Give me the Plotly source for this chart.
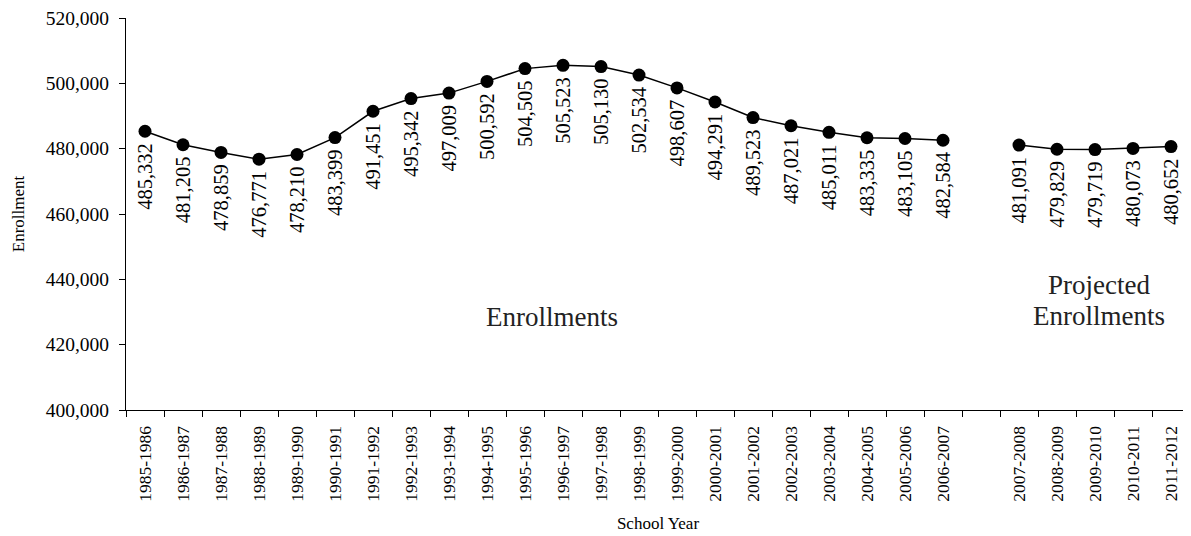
import plotly.graph_objects as go

years = ["1985-1986", "1986-1987", "1987-1988", "1988-1989", "1989-1990", "1990-1991",
         "1991-1992", "1992-1993", "1993-1994", "1994-1995", "1995-1996", "1996-1997",
         "1997-1998", "1998-1999", "1999-2000", "2000-2001", "2001-2002", "2002-2003",
         "2003-2004", "2004-2005", "2005-2006", "2006-2007"]
enroll = [485332, 481205, 478859, 476771, 478210, 483399, 491451, 495342, 497009, 500592,
          504505, 505523, 505130, 502534, 498607, 494291, 489523, 487021, 485011, 483335,
          483105, 482584]
proj_years = ["2007-2008", "2008-2009", "2009-2010", "2010-2011", "2011-2012"]
proj_enroll = [481091, 479829, 479719, 480073, 480652]

gap = " "
cats = years + [gap] + proj_years
vals = enroll + [None] + proj_enroll

FONT = "Liberation Serif"

# page has ~8px body margin; compensate
OFF = 8
W, H = 1191 - OFF, 536 - OFF
ML, MR, MT, MB = 126 - OFF, 1, 18 - OFF, 126

fig = go.Figure()
fig.add_trace(go.Scatter(
    x=cats, y=vals, mode="lines+markers", connectgaps=False,
    line=dict(color="black", width=1.5),
    marker=dict(color="black", size=13, symbol="circle"),
    hoverinfo="x+y", showlegend=False,
))

for c, v in zip(cats, vals):
    if v is None:
        continue
    fig.add_annotation(x=c, y=v, text=f"{v:,}", textangle=-90, showarrow=False,
                       xanchor="center", yanchor="top", yshift=-10,
                       font=dict(family=FONT, size=20.5, color="black"))

plot_h = H - MT - MB
plot_w = W - ML - MR


def px(xpix):
    return (xpix - OFF - ML) / plot_w


def py(ypix):
    return 1 - (ypix - OFF - MT) / plot_h


big = dict(family=FONT, size=27, color="#222")
fig.add_annotation(x=px(552), y=py(317), xref="paper", yref="paper", text="Enrollments",
                   showarrow=False, font=big, xanchor="center", yanchor="middle")
fig.add_annotation(x=px(1099), y=py(285), xref="paper", yref="paper", text="Projected",
                   showarrow=False, font=big, xanchor="center", yanchor="middle")
fig.add_annotation(x=px(1099), y=py(316), xref="paper", yref="paper", text="Enrollments",
                   showarrow=False, font=big, xanchor="center", yanchor="middle")

fig.update_layout(
    width=W, height=H,
    margin=dict(l=ML, r=MR, t=MT, b=MB),
    paper_bgcolor="white", plot_bgcolor="white",
    font=dict(family=FONT, color="black"),
    xaxis=dict(
        type="category", categoryorder="array", categoryarray=cats,
        range=[-0.5, len(cats) - 0.5], automargin=False,
        tickangle=-90, tickson="boundaries", ticks="outside", ticklen=6,
        tickcolor="black", showline=True, linecolor="black", linewidth=1,
        showgrid=False, zeroline=False,
        tickfont=dict(family=FONT, size=17.5, color="black"),
        ticklabelstandoff=8,
        title=dict(text="School Year", font=dict(family=FONT, size=17, color="black"),
                   standoff=16),
    ),
    yaxis=dict(
        range=[400000, 520000], dtick=20000, tickformat=",", automargin=False,
        ticks="outside", ticklen=6, tickcolor="black",
        showline=True, linecolor="black", linewidth=1,
        showgrid=False, zeroline=False,
        tickfont=dict(family=FONT, size=19.5, color="black"),
        ticklabelstandoff=6, ticklabeloverflow="allow",
        title=dict(text="Enrollment", font=dict(family=FONT, size=17, color="black"),
                   standoff=16),
    ),
)

fig.write_html("out.html")
